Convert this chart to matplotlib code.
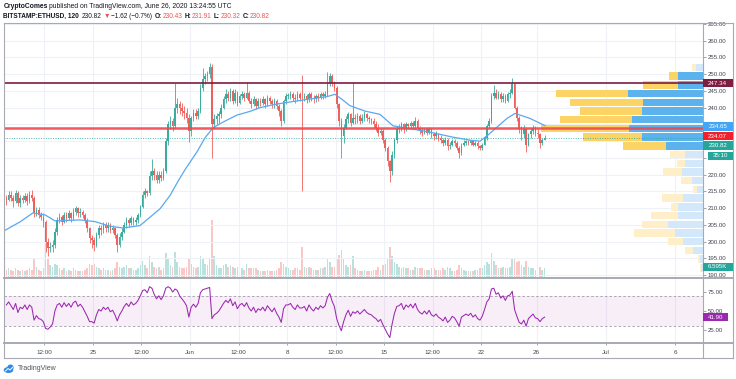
import numpy as np
import pandas as pd
import matplotlib
matplotlib.use('Agg')
import matplotlib.pyplot as plt
import matplotlib.dates as mdates
from matplotlib.patches import Rectangle, Ellipse
from matplotlib.lines import Line2D
from matplotlib.transforms import IdentityTransform, blended_transform_factory

plt.rcParams['font.family'] = ['Liberation Sans', 'DejaVu Sans']

first_open = 213.0
close = [
    212.5, 214.0,
    213.0, 212.0, 214.5, 211.5, 213.0, 212.5,   # May 19
    213.5, 212.0, 214.0, 213.0, 208.5, 209.5,   # May 20
    208.0, 207.5, 206.0, 200.0, 198.0, 198.5,   # May 21
    199.0, 203.0, 206.5, 207.5, 206.0, 208.0,   # May 22
    207.0, 208.5, 207.0, 209.0, 210.0, 208.5,   # May 23
    209.0, 208.0, 206.5, 204.0, 201.0, 200.5,   # May 24
    199.0, 202.0, 204.0, 203.5, 205.0, 204.0,   # May 25
    205.0, 203.5, 204.0, 202.0, 199.0, 201.5,   # May 26
    203.0, 205.0, 206.5, 205.5, 207.0, 206.0,   # May 27
    206.5, 208.0, 210.5, 214.0, 215.0, 214.5,   # May 28
    219.5, 221.0, 220.0, 218.5, 220.0, 219.0,   # May 29
    221.0, 230.0, 235.0, 236.0, 234.5, 240.0,   # May 30
    241.0, 240.0, 239.0, 238.5, 237.0, 233.0,   # May 31
    237.0, 238.5, 237.5, 239.0, 246.0, 248.5,   # Jun 1
    249.5, 250.0, 252.0, 235.0, 236.5, 237.5,   # Jun 2
    238.0, 240.0, 242.5, 244.0, 243.0, 245.0,   # Jun 3
    242.0, 244.5, 241.5, 243.5, 244.0, 243.0,   # Jun 4
    244.5, 242.0, 241.0, 242.5, 240.5, 242.0,   # Jun 5
    241.5, 242.5, 241.0, 243.0, 242.0, 241.0,   # Jun 6
    242.0, 240.5, 239.0, 236.0, 242.0, 243.5,   # Jun 7
    243.5, 244.0, 243.0, 242.5, 244.0, 243.0,   # Jun 8
    242.8, 243.5, 242.5, 244.0, 243.0, 242.5,   # Jun 9
    243.5, 243.0, 244.0, 243.5, 244.0, 247.0,   # Jun 10
    249.5, 247.5, 246.0, 241.0, 236.0, 231.5,   # Jun 11
    234.0, 236.5, 238.0, 235.5, 237.0, 236.5,   # Jun 12
    237.5, 236.0, 237.0, 238.0, 237.0, 236.5,   # Jun 13
    236.0, 235.0, 234.0, 232.5, 233.0, 230.5,   # Jun 14
    228.0, 224.0, 221.0, 226.0, 230.5, 233.5,   # Jun 15
    234.0, 235.0, 233.5, 235.0, 234.5, 235.5,   # Jun 16
    234.5, 236.0, 234.0, 233.0, 232.5, 233.5,   # Jun 17
    232.5, 233.5, 232.0, 231.5, 232.0, 231.0,   # Jun 18
    230.5, 229.5, 230.5, 228.5, 229.0, 230.0,   # Jun 19
    229.5, 228.0, 226.5, 229.0, 229.5, 230.0,   # Jun 20
    229.5, 230.0, 229.0, 229.5, 228.5, 228.0,   # Jun 21
    229.0, 231.0, 234.5, 236.0, 243.5, 244.5,   # Jun 22
    243.0, 244.0, 242.5, 243.5, 242.0, 244.0,   # Jun 23
    244.5, 247.0, 240.0, 237.0, 233.5, 232.0,   # Jun 24
    233.5, 229.0, 232.0, 233.0, 234.0, 232.5,   # Jun 25
    232.0, 229.5, 230.5, 230.82,                # Jun 26
]
high = [
    214.0, 215.0,
    215.2, 214.0, 215.5, 215.0, 214.0, 213.8,
    214.5, 214.5, 215.0, 215.3, 213.5, 210.5,
    210.5, 209.0, 208.5, 206.5, 201.0, 200.0,
    200.5, 204.0, 207.5, 208.5, 208.0, 209.0,
    209.0, 209.5, 209.0, 210.0, 210.8, 210.5,
    210.0, 209.5, 208.5, 207.0, 204.5, 202.0,
    201.5, 203.0, 205.0, 205.0, 206.0, 206.0,
    206.0, 205.5, 205.0, 204.5, 202.5, 202.5,
    204.0, 206.0, 207.5, 207.0, 207.8, 207.5,
    207.5, 208.5, 211.0, 215.0, 216.0, 215.5,
    221.0, 224.7, 222.0, 221.0, 221.0, 221.0,
    222.0, 231.0, 236.0, 237.5, 237.0, 247.3,
    243.0, 242.0, 241.5, 240.5, 240.0, 238.0,
    237.5, 239.5, 239.5, 240.0, 247.0, 251.8,
    250.5, 251.0, 253.3, 253.0, 238.0, 238.5,
    239.0, 241.0, 243.5, 245.5, 245.0, 246.0,
    245.5, 245.5, 245.0, 244.0, 245.0, 244.8,
    247.7, 245.0, 243.0, 243.5, 243.0, 242.8,
    243.0, 243.5, 243.0, 243.8, 243.5, 242.5,
    243.0, 242.5, 241.0, 239.5, 242.5, 244.5,
    244.5, 245.0, 244.8, 244.0, 245.0, 244.7,
    249.8, 244.5, 244.0, 244.8, 244.8, 243.8,
    244.0, 244.3, 244.8, 244.8, 245.0, 250.7,
    250.5, 250.0, 248.0, 246.5, 241.5, 237.0,
    235.0, 237.5, 238.8, 238.5, 247.7, 238.0,
    238.5, 238.0, 238.0, 239.0, 238.5, 237.5,
    237.0, 236.8, 236.0, 235.0, 234.0, 233.5,
    231.0, 228.5, 224.5, 227.0, 231.0, 234.5,
    235.0, 235.7, 235.5, 235.7, 235.5, 236.0,
    236.0, 237.2, 236.5, 234.5, 234.0, 234.0,
    234.0, 234.2, 234.0, 232.8, 233.0, 232.5,
    231.8, 231.0, 231.2, 231.0, 229.8, 230.8,
    230.8, 230.0, 228.5, 229.5, 230.3, 230.5,
    230.5, 230.3, 230.5, 230.0, 230.0, 229.0,
    229.5, 231.5, 235.0, 236.8, 244.5, 246.8,
    245.5, 245.0, 244.7, 244.5, 244.0, 244.8,
    245.5, 248.9, 247.5, 240.5, 237.5, 234.5,
    234.8, 234.0, 232.5, 234.0, 234.8, 234.5,
    233.5, 232.5, 231.0, 231.91,
]
low = [
    211.0, 212.0,
    212.0, 210.5, 211.5, 210.8, 210.5, 211.5,
    211.8, 211.0, 211.5, 212.0, 207.5, 207.8,
    207.0, 206.5, 204.5, 197.0, 195.8, 197.0,
    196.8, 198.0, 202.0, 205.5, 205.0, 205.5,
    206.0, 206.5, 206.0, 206.5, 208.0, 207.5,
    207.5, 207.0, 205.5, 203.0, 199.5, 198.0,
    197.3, 198.5, 201.0, 202.0, 202.5, 203.0,
    203.0, 202.5, 202.5, 201.0, 197.0, 198.5,
    200.5, 202.5, 204.0, 204.5, 205.0, 205.0,
    205.0, 205.5, 207.5, 210.0, 213.0, 213.5,
    214.0, 218.5, 218.5, 217.5, 217.5, 218.0,
    218.5, 220.5, 229.0, 233.5, 233.0, 234.0,
    238.5, 238.0, 237.5, 236.5, 235.5, 229.9,
    231.5, 236.0, 236.5, 236.5, 238.5, 245.0,
    247.0, 248.0, 249.0, 225.0, 233.5, 235.0,
    235.5, 237.0, 239.5, 241.5, 242.0, 242.0,
    241.0, 241.5, 240.5, 241.0, 242.5, 242.0,
    242.5, 241.5, 240.0, 240.5, 239.5, 240.0,
    240.5, 240.8, 240.0, 240.5, 241.0, 240.0,
    240.0, 239.5, 237.5, 234.5, 235.5, 241.0,
    242.5, 242.5, 242.0, 241.5, 242.0, 242.0,
    215.0, 242.0, 241.5, 241.8, 242.0, 241.5,
    241.8, 242.0, 242.5, 242.5, 243.0, 243.5,
    246.5, 246.5, 245.0, 240.0, 234.5, 225.0,
    229.5, 233.5, 235.5, 234.5, 235.0, 235.0,
    235.5, 235.0, 235.5, 236.0, 236.0, 235.5,
    235.0, 234.0, 233.0, 231.5, 231.8, 229.5,
    227.0, 222.5, 217.8, 220.0, 225.0, 229.5,
    232.5, 233.0, 232.5, 233.0, 233.5, 233.8,
    233.5, 234.0, 233.5, 232.0, 231.5, 232.0,
    231.8, 232.0, 231.0, 230.5, 230.8, 230.0,
    229.5, 228.5, 228.8, 227.5, 227.8, 228.5,
    228.5, 227.5, 225.0, 226.0, 228.5, 229.0,
    228.8, 229.0, 228.5, 228.5, 227.8, 227.4,
    227.5, 228.8, 230.5, 234.0, 235.5, 242.5,
    242.5, 242.5, 241.7, 241.8, 241.5, 241.8,
    243.0, 244.0, 239.5, 236.0, 232.5, 230.3,
    231.0, 226.8, 228.5, 231.0, 232.0, 231.5,
    231.0, 228.0, 229.0, 230.32,
]
# volume in thousands
volume = [
    5, 6,
    5, 4, 6, 5, 4, 5,
    4, 5, 6, 5, 13, 7,
    5, 4, 6, 24, 12, 8,
    7, 9, 8, 6, 5, 6,
    4, 5, 4, 6, 5, 4,
    4, 4, 5, 6, 9, 8,
    9, 7, 6, 5, 6, 5,
    5, 4, 5, 6, 10, 7,
    6, 7, 8, 6, 6, 5,
    5, 6, 8, 11, 8, 6,
    14, 10, 7, 6, 7, 5,
    6, 16, 12, 8, 7, 17,
    10, 7, 6, 6, 7, 12,
    9, 7, 6, 7, 14, 12,
    9, 8, 12, 38, 14, 8,
    6, 6, 8, 9, 7, 8,
    7, 6, 7, 6, 6, 5,
    9, 6, 6, 6, 6, 5,
    4, 4, 4, 5, 4, 4,
    4, 5, 6, 10, 9, 7,
    6, 5, 5, 6, 6, 5,
    20, 7, 6, 7, 6, 5,
    5, 5, 6, 6, 7, 13,
    10, 7, 7, 12, 15, 18,
    12, 8, 7, 8, 14, 6,
    5, 4, 4, 5, 4, 4,
    4, 5, 5, 7, 5, 8,
    9, 12, 20, 14, 10, 9,
    7, 6, 7, 6, 6, 5,
    5, 7, 6, 6, 6, 5,
    5, 5, 6, 6, 5, 5,
    5, 6, 5, 7, 6, 4,
    4, 5, 8, 6, 5, 4,
    4, 4, 4, 5, 5, 6,
    6, 8, 10, 9, 16, 11,
    8, 6, 6, 7, 6, 6,
    7, 13, 12, 10, 11, 8,
    7, 11, 7, 6, 6, 5,
    5, 7, 5, 6.6,
]
rsi = [
    58, 62,
    57, 52, 60, 48, 55, 53,
    58, 52, 58, 55, 38, 44,
    40, 39, 36, 27, 26, 29,
    33, 50, 58, 60, 55, 61,
    56, 60, 55, 61, 63, 56,
    59, 55, 49, 43, 36, 36,
    34, 45, 52, 50, 55, 52,
    55, 49, 51, 45, 37, 45,
    50, 56, 60, 56, 62, 58,
    60, 64, 70, 77, 78, 74,
    82, 80, 72, 66, 70, 65,
    70, 80, 82, 80, 75, 79,
    77, 70, 66, 62, 57, 42,
    55, 59, 55, 60, 74, 78,
    79, 80, 81, 40, 45, 47,
    50, 55, 60, 64, 61, 66,
    57, 62, 53, 58, 60, 56,
    61, 54, 50, 55, 48, 53,
    51, 55, 50, 57, 53, 49,
    54, 47, 42, 35, 53, 58,
    58, 60, 55, 52, 58, 54,
    54, 56, 50, 58, 53, 50,
    55, 52, 57, 54, 57, 68,
    73, 63, 56, 40, 31, 24,
    36, 45, 51, 43, 49, 47,
    50, 46, 49, 52, 48, 46,
    45, 42, 40, 36, 39, 32,
    26, 20, 15, 33, 47, 56,
    57, 60, 52, 58, 55, 59,
    54, 60, 52, 48, 46, 50,
    46, 51, 45, 43, 46, 42,
    40, 37, 42, 35, 38, 43,
    41, 36, 30, 42, 44, 46,
    44, 47, 42, 45, 40, 38,
    43, 52, 62, 66, 79, 80,
    72, 74, 67, 70, 64, 70,
    71, 76, 52, 43, 35, 33,
    38, 30, 40, 43, 46, 41,
    40, 36, 40, 41.9,
]

# moving average, read as (days after 2020-05-18, value)
ma_day = [0.65, 1.73, 2.67, 3.54, 4.26, 6.06, 7.14, 8.23, 9.16, 10.39, 11.11, 11.83,
          12.56, 13.13, 13.64, 14.5, 15.08, 15.66, 16.38, 17.39, 18.33, 19.05, 20.13,
          21.21, 22.66, 23.88, 24.46, 24.96, 25.54, 26.62, 27.71, 28.64, 29.65, 31.31,
          32.97, 34.2, 34.92, 35.43, 36.15, 36.87, 37.45, 37.81, 38.53, 39.61]
ma_val = [203.4, 205.9, 208.6, 208.0, 206.2, 206.5, 206.0, 204.6, 204.1, 204.8, 207.3, 209.8,
          213.8, 218.0, 221.5, 226.8, 231.0, 234.0, 235.7, 237.8, 238.9, 240.0, 241.0,
          241.7, 242.6, 243.3, 244.0, 242.5, 240.6, 239.0, 238.0, 234.6, 233.9, 232.7,
          231.2, 230.3, 230.0, 231.6, 234.2, 236.8, 238.3, 237.8, 236.8, 234.65]

# visible range volume profile (price level centres, down/up volume)
vp_level = [252.0, 249.4, 246.8, 244.2, 241.6, 239.0, 236.4, 233.8, 231.2, 228.6, 226.0, 223.4,
            220.8, 218.2, 215.6, 213.0, 210.4, 207.8, 205.2, 202.6, 200.0, 197.4, 194.8, 192.2]
vp_down = [4, 9, 35, 72, 73, 62, 72, 88, 59, 43, 15, 8, 19, 11, 4, 21, 7, 27, 26, 41, 15, 8, 2, 1]
vp_up = [7, 25, 25, 75, 60, 61, 71, 74, 61, 37, 18, 18, 21, 11, 6, 20, 25, 25, 35, 28, 20, 10, 3, 2]
vp_value_area = [False] + [True] * 9 + [False] * 14

level_resist = 247.34
level_support = 234.07
last_price = 230.82

tick_at = ['2020-05-21 12:00', '2020-05-25 00:00', '2020-05-28 12:00', '2020-06-01 00:00',
           '2020-06-04 12:00', '2020-06-08 00:00', '2020-06-11 12:00', '2020-06-15 00:00',
           '2020-06-18 12:00', '2020-06-22 00:00', '2020-06-26 00:00', '2020-07-01 00:00',
           '2020-07-06 00:00']
tick_txt = ['12:00', '25', '12:00', 'Jun', '12:00', '8', '12:00', '15', '12:00', '22', '26', 'Jul', '6']

# ---------------------------------------------------------------------------
W, H = 736, 379
fig = plt.figure(figsize=(W / 100, H / 100), dpi=100)
fig.patch.set_facecolor('white')
px = IdentityTransform()


def Y(y):
    return H - y


def frac_rect(x0, y0, x1, y1):
    return [x0 / W, 1 - y1 / H, (x1 - x0) / W, (y1 - y0) / H]


L, R, R2 = 4, 702.7, 732.7
TOP, PB, RT, RB, BOT = 23, 277.5, 278.8, 342.7, 358.3

ax_v = fig.add_axes(frac_rect(L, TOP, R, PB))
ax_p = fig.add_axes(frac_rect(L, TOP, R, PB), sharex=ax_v)
ax_r = fig.add_axes(frac_rect(L, RT, R, RB), sharex=ax_v)
ax_v.set_zorder(0)
ax_p.set_zorder(1)
ax_p.patch.set_visible(False)

close = np.array(close, float)
high = np.array(high, float)
low = np.array(low, float)
opn = np.r_[first_open, close[:-1]]
high = np.maximum(high, np.maximum(opn, close))
low = np.minimum(low, np.minimum(opn, close))
times = pd.date_range('2020-05-18 16:00', periods=len(close), freq='4h')
xc = mdates.date2num(times + pd.Timedelta(hours=2))
bar_w = 4 / 24 * 0.7
up = close >= opn
c_up, c_dn = '#3bab9d', '#ef5f5c'
cols = np.where(up, c_up, c_dn)

base = pd.Timestamp('2020-05-18')
x0 = mdates.date2num(base + pd.Timedelta(days=0.58))
x1 = mdates.date2num(base + pd.Timedelta(days=50.99))
ticks = mdates.date2num(pd.to_datetime(tick_at, format='%Y-%m-%d %H:%M'))

# volume (own scale, behind price)
ax_v.bar(xc, volume, width=bar_w, color=np.where(up, '#26a69a', '#ef5350'), alpha=0.32, lw=0)
ax_v.set_ylim(0, 168)
ax_v.set_xlim(x0, x1)
ax_v.axis('off')

# grid
for t in ticks:
    ax_p.axvline(t, color='#eef1f6', lw=0.8, zorder=0)
    ax_r.axvline(t, color='#eef1f6', lw=0.8, zorder=0)
for p in range(190, 266, 5):
    ax_p.axhline(p, color='#eef1f6', lw=0.8, zorder=0)

# volume profile
tr = blended_transform_factory(ax_p.transAxes, ax_p.transData)
aw = R - L
bh = 2.6 * 0.86
for lvl, dn, uv, va in zip(vp_level, vp_down, vp_up, vp_value_area):
    bu = uv / aw
    bd = dn / aw
    ax_p.add_patch(Rectangle((1 - bu, lvl - bh / 2), bu, bh, transform=tr,
                             fc='#5bb2ed' if va else '#d3e8fa', lw=0, zorder=1))
    ax_p.add_patch(Rectangle((1 - bu - bd, lvl - bh / 2), bd, bh, transform=tr,
                             fc='#fcd465' if va else '#feefc9', lw=0, zorder=1))

# candles
ax_p.vlines(xc, low, high, colors=cols, lw=0.6, zorder=3)
body = np.maximum(np.abs(close - opn), 0.2)
ax_p.bar(xc, body, bottom=np.minimum(opn, close), width=bar_w, color=cols, lw=0, zorder=3.5)

ma_x = mdates.date2num(base + pd.to_timedelta(ma_day, unit='D'))
ax_p.plot(ma_x, ma_val, color='#5aa8ef', lw=0.9, zorder=4)

ax_p.axhline(last_price, color='#26a69a', lw=0.7, ls=(0, (1, 1.5)), alpha=0.8, zorder=2)
ax_p.axhline(level_resist, color='#7d1d3f', lw=1.2, zorder=5)
ax_p.axhline(level_support, color='#f0474c', lw=1.8, alpha=0.9, zorder=5)

ax_p.set_xlim(x0, x1)
ax_p.set_ylim(189.31, 265.28)
ax_p.yaxis.tick_right()
yt = np.arange(190, 266, 5)
ax_p.set_yticks(yt)
# labels for 225/230/235 sit under the price tags on the axis
ax_p.set_yticklabels(['' if v in (225, 230, 235) else f'{v:.2f}' for v in yt])
ax_p.tick_params(axis='y', length=2, width=0.6, color='#9598a1', labelsize=4.4,
                 labelcolor='#434651', pad=1.5)
ax_p.tick_params(axis='x', bottom=False, labelbottom=False)
for s in ax_p.spines.values():
    s.set_visible(False)

# RSI
ax_r.axhspan(30, 70, color='#9c27b0', alpha=0.08, lw=0, zorder=1)
ax_r.axhline(70, color='#a29aab', lw=0.6, ls=(0, (3, 2.5)), zorder=2)
ax_r.axhline(30, color='#a29aab', lw=0.6, ls=(0, (3, 2.5)), zorder=2)
ax_r.plot(xc, rsi, color='#9c27b0', lw=0.75, zorder=3)
ax_r.set_ylim(8.3, 92.4)
ax_r.yaxis.tick_right()
ax_r.set_yticks([25, 50, 75])
ax_r.set_yticklabels(['25.00', '50.00', '75.00'])
ax_r.tick_params(axis='y', length=2, width=0.6, color='#9598a1', labelsize=4.4,
                 labelcolor='#434651', pad=1.5)
ax_r.set_xticks(ticks)
ax_r.set_xticklabels(tick_txt)
ax_r.tick_params(axis='x', length=1.5, width=0.6, color='#9598a1', labelsize=4.5,
                 labelcolor='#434651', pad=3.4)
ax_r.set_xlim(x0, x1)
for s in ax_r.spines.values():
    s.set_visible(False)

# frame
frame_c = '#a7aab3'
for (xa, ya, xb, yb, lw) in [(L, TOP, R2, TOP, 0.8), (L, BOT, R2, BOT, 0.8), (L, TOP, L, BOT, 0.8),
                             (R2, TOP, R2, BOT, 0.8), (R, TOP, R, BOT, 0.8),
                             (L, 278.1, R2, 278.1, 1.4), (L, RB, R2, RB, 1.4)]:
    fig.add_artist(Line2D([xa, xb], [Y(ya), Y(yb)], transform=px, color=frame_c, lw=lw, zorder=8))


# axis value tags
def tag(y, text, fc, xa=R, xb=R2, h=8.4):
    fig.add_artist(Rectangle((xa, Y(y) - h / 2), xb - xa, h, transform=px, fc=fc, lw=0, zorder=10))
    fig.text((xa + xb) / 2, Y(y), text, transform=px, ha='center', va='center',
             fontsize=4.4, color='white', zorder=11)


tag(83.2, '247.34', '#7d1d3f')
tag(126.5, '234.65', '#42a5f5')
tag(136.0, '234.07', '#f2202a')
tag(145.5, '230.82', '#26a69a')
tag(155.8, '35:10', '#26a69a', xa=707.5)
tag(266.7, '6.595K', '#26a69a')
tag(317.2, '41.90', '#9c27b0', xb=728.3)

# header
renderer = fig.canvas.get_renderer()
dark = '#131722'
red = '#ef5350'


def text_run(pieces, x, y, size):
    for s, color, weight, gap in pieces:
        t = fig.text(x, Y(y), s, transform=px, ha='left', va='center', fontsize=size,
                     color=color, fontweight=weight)
        x += t.get_window_extent(renderer=renderer).width + gap


text_run([('CryptoComes', dark, 'bold', 1.8),
          ('published on TradingView.com, June 26, 2020 13:24:55 UTC', dark, 'normal', 0)],
         3.3, 6.5, 4.85)
text_run([('BITSTAMP:ETHUSD, 120', dark, 'bold', 2.8), ('230.82', dark, 'normal', 1.5),
          ('▼', red, 'normal', 1.3), ('−1.62 (−0.7%)', dark, 'normal', 2.8),
          ('O:', dark, 'bold', 0.6), ('230.43', red, 'normal', 2.3),
          ('H:', dark, 'bold', 0.6), ('231.91', red, 'normal', 2.3),
          ('L:', dark, 'bold', 0.6), ('230.32', red, 'normal', 2.3),
          ('C:', dark, 'bold', 0.6), ('230.82', red, 'normal', 0)],
         3.3, 16.2, 4.7)

# TradingView mark
fig.add_artist(Ellipse((8.5, Y(370)), 9.5, 6.0, transform=px, fc='#2f8ae0', lw=0, zorder=9))
fig.add_artist(Ellipse((10.5, Y(367.5)), 6.5, 6.0, transform=px, fc='#2f8ae0', lw=0, zorder=9))
fig.add_artist(Line2D([5.5, 8, 10, 13], [Y(371), Y(368.5), Y(370), Y(367)], transform=px,
                      color='white', lw=0.7, zorder=10))
fig.text(17.5, Y(369), 'TradingView', transform=px, ha='left', va='center', fontsize=5.0,
         color='#50535e')

fig.savefig('out.png', dpi=100)
